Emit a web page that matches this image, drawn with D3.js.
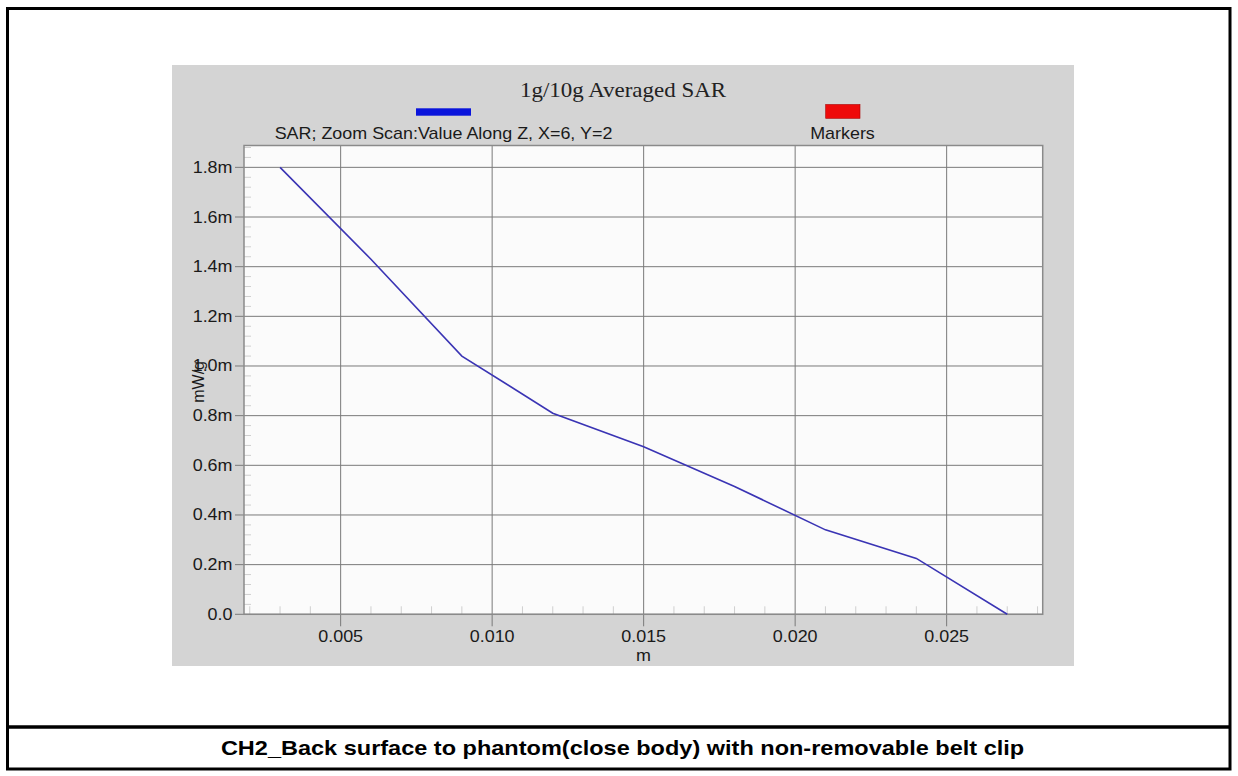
<!DOCTYPE html>
<html>
<head>
<meta charset="utf-8">
<script src="https://cdn.jsdelivr.net/npm/d3@7"></script>
<style>
  html, body { margin: 0; padding: 0; background: #fff; }
  svg { display: block; }
</style>
</head>
<body>
<svg id="chart" width="1238" height="776"></svg>
<script>
// Data (depth along Z in m, SAR in mW/g)
const zValues = [0.003, 0.006, 0.009, 0.012, 0.015, 0.018, 0.021, 0.024, 0.027]
const sarValues = [1.80, 1.43, 1.04, 0.81, 0.675, 0.515, 0.34, 0.225, 0.0]
const xTicks = [0.005, 0.010, 0.015, 0.020, 0.025]
const yTicks = [0.0, 0.2, 0.4, 0.6, 0.8, 1.0, 1.2, 1.4, 1.6, 1.8]
const legendNames = ['SAR; Zoom Scan:Value Along Z, X=6, Y=2', 'Markers']
const legendColors = ['#0a14dc', '#ee0a0a']
const titleText = '1g/10g Averaged SAR'
const xLabel = 'm'
const yLabel = 'mW/g'
const captionText = 'CH2_Back surface to phantom(close body) with non-removable belt clip'

const SX = 1.12 // the source picture is stretched a bit horizontally
const panel = { x: 172, y: 65, w: 902, h: 601 }
const plot = { left: 244, right: 1042.7, top: 145.5, bottom: 614.3 }

const svg = d3.select('#chart')
  .style('font-family', 'Arial, "Liberation Sans", sans-serif')

// helper: stretched text
const addText = (parent, x, y, str, opts = {}) => {
  const t = parent.append('text')
    .attr('transform', `translate(${x},${y}) scale(${SX},1)`)
    .attr('text-anchor', opts.anchor || 'middle')
    .attr('font-size', (opts.size || 16) + 'px')
    .attr('fill', opts.fill || '#1a1a1a')
    .text(str)
  if (opts.weight) t.attr('font-weight', opts.weight)
  if (opts.family) t.attr('font-family', opts.family)
  return t
}

// frame
svg.append('rect')
  .attr('x', 7.5).attr('y', 8.5).attr('width', 1222.5).attr('height', 760.5)
  .attr('fill', '#fff').attr('stroke', '#000').attr('stroke-width', 3)
svg.append('line')
  .attr('x1', 7.5).attr('x2', 1230).attr('y1', 727).attr('y2', 727)
  .attr('stroke', '#000').attr('stroke-width', 3.5)

// grey panel
svg.append('rect')
  .attr('x', panel.x).attr('y', panel.y).attr('width', panel.w).attr('height', panel.h)
  .attr('fill', '#d4d4d4')

const x = d3.scaleLinear()
  .domain([0.00181, 0.02817])
  .range([plot.left, plot.right])
const y = d3.scaleLinear()
  .domain([0, 1.888])
  .range([plot.bottom, plot.top])

// plot background
svg.append('rect')
  .attr('x', plot.left).attr('y', plot.top)
  .attr('width', plot.right - plot.left).attr('height', plot.bottom - plot.top)
  .attr('fill', '#fbfbfb')

// minor ticks (inside)
const xMinor = d3.range(2, 29).filter(d => d % 5 !== 0).map(d => d / 1000)
svg.append('g').selectAll('line').data(xMinor).join('line')
  .attr('x1', d => x(d)).attr('x2', d => x(d))
  .attr('y1', plot.bottom).attr('y2', plot.bottom - 8)
  .attr('stroke', '#cfcfcf').attr('stroke-width', 1)
const yMinor = d3.range(1, 48).filter(d => d % 5 !== 0).map(d => d * 0.04)
  .filter(d => d < 1.888)
svg.append('g').selectAll('line').data(yMinor).join('line')
  .attr('x1', plot.left).attr('x2', plot.left + 7)
  .attr('y1', d => y(d)).attr('y2', d => y(d))
  .attr('stroke', '#cfcfcf').attr('stroke-width', 1)

// grid
svg.append('g').selectAll('line').data(xTicks).join('line')
  .attr('x1', d => x(d)).attr('x2', d => x(d))
  .attr('y1', plot.top).attr('y2', plot.bottom + 12)
  .attr('stroke', '#7a7a7a').attr('stroke-width', 1)
svg.append('g').selectAll('line').data(yTicks).join('line')
  .attr('x1', plot.left - 9).attr('x2', plot.right)
  .attr('y1', d => y(d)).attr('y2', d => y(d))
  .attr('stroke', '#7a7a7a').attr('stroke-width', 1)

// plot border
svg.append('rect')
  .attr('x', plot.left).attr('y', plot.top)
  .attr('width', plot.right - plot.left).attr('height', plot.bottom - plot.top)
  .attr('fill', 'none').attr('stroke', '#8a8a8a').attr('stroke-width', 1.5)

// tick labels
xTicks.forEach(d => addText(svg, x(d), 642, d.toFixed(3)))
yTicks.forEach(d => addText(svg, 232.5, y(d) + 5.5, d === 0 ? '0.0' : d.toFixed(1) + 'm', { anchor: 'end' }))

// axis titles
addText(svg, (plot.left + plot.right) / 2, 661, xLabel)
svg.append('text')
  .attr('transform', `translate(204,${(plot.top + plot.bottom) / 2 + 2}) rotate(-90)`)
  .attr('text-anchor', 'middle').attr('font-size', '16px').attr('fill', '#1a1a1a')
  .text(yLabel)

// data line
svg.append('path')
  .datum(zValues.map((z, i) => [z, sarValues[i]]))
  .attr('fill', 'none').attr('stroke', '#3a34b4').attr('stroke-width', 1.6)
  .attr('d', d3.line().x(d => x(d[0])).y(d => y(d[1])))

// title
addText(svg, 623, 97, titleText, { size: 20.5, family: '"Liberation Serif", "Times New Roman", serif', fill: '#222' })

// legend
svg.append('rect').attr('x', 416).attr('y', 108.3).attr('width', 55).attr('height', 7.4)
  .attr('fill', legendColors[0])
svg.append('rect').attr('x', 825.7).attr('y', 104.5).attr('width', 34.3).attr('height', 13.8)
  .attr('fill', legendColors[1]).attr('stroke', '#a00').attr('stroke-width', 0.6)
addText(svg, 443.5, 138.5, legendNames[0])
addText(svg, 842.5, 138.5, legendNames[1])

// caption
addText(svg, 622.5, 755, captionText, { size: 21, weight: 'bold', fill: '#000' })
</script>
</body>
</html>
